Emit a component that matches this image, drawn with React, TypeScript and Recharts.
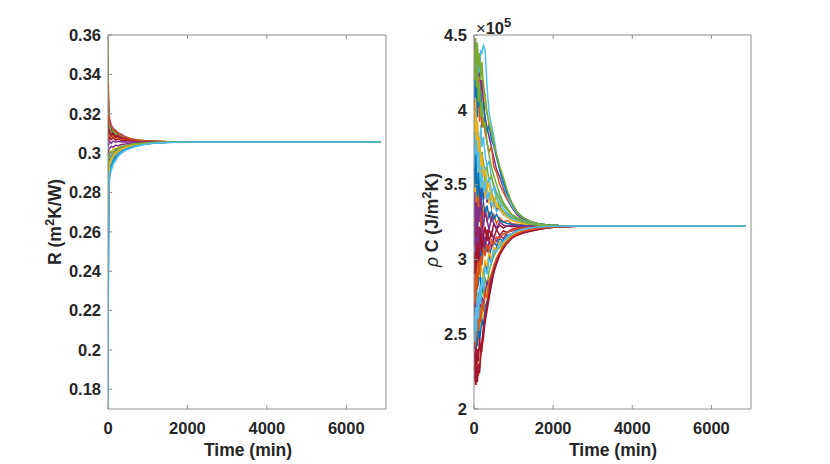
import React from 'react'
import { Line, LineChart, XAxis, YAxis } from 'recharts'

// MATLAB default colour order
const colors = ['#0072BD', '#D95319', '#EDB120', '#7E2F8E', '#77AC30', '#4DBEEE', '#A2142F']

const timeTicks = [0, 2000, 4000, 6000]
const rTicks = [0.18, 0.2, 0.22, 0.24, 0.26, 0.28, 0.3, 0.32, 0.34, 0.36]
const rhoCTicks = [2, 2.5, 3, 3.5, 4, 4.5] // x 10^5

// sample times (min)
const rTime = [0, 15, 40, 80, 130, 190, 260, 340, 430, 530, 650, 800, 980, 1200, 1500, 1900, 6870]
const rhoCTime = [
  0, 20, 40, 60, 85, 110, 140, 170, 200, 240, 280, 330, 380, 440, 500, 570, 650, 740, 840, 950, 1080, 1230,
  1400, 1600, 1850, 2150, 2600, 6870,
]

// R (m2K/W) estimates, one array per run
const rRuns = [
  [0.178, 0.29, 0.293, 0.2955, 0.2982, 0.3001, 0.3012, 0.3026, 0.3032, 0.3041, 0.3045, 0.3049, 0.3052, 0.3054, 0.3056, 0.3057, 0.3057],
  [0.352, 0.32, 0.3145, 0.3128, 0.311, 0.3104, 0.3092, 0.3086, 0.3078, 0.3073, 0.3068, 0.3064, 0.3061, 0.3059, 0.3058, 0.3057, 0.3057],
  [0.258, 0.281, 0.2905, 0.2938, 0.2965, 0.2978, 0.2996, 0.3008, 0.3021, 0.3029, 0.3037, 0.3044, 0.3049, 0.3053, 0.3055, 0.3057, 0.3057],
  [0.328, 0.325, 0.3175, 0.3142, 0.3125, 0.3116, 0.3102, 0.3095, 0.3084, 0.3076, 0.307, 0.3065, 0.3062, 0.3059, 0.3058, 0.3057, 0.3057],
  [0.358, 0.311, 0.3122, 0.3098, 0.3105, 0.3087, 0.309, 0.3079, 0.3076, 0.307, 0.3066, 0.3063, 0.306, 0.3059, 0.3058, 0.3057, 0.3057],
  [0.198, 0.272, 0.2885, 0.2912, 0.2944, 0.2962, 0.2985, 0.3, 0.3013, 0.3022, 0.3031, 0.3039, 0.3046, 0.3051, 0.3054, 0.3056, 0.3057],
  [0.316, 0.306, 0.3085, 0.3068, 0.3079, 0.3066, 0.3072, 0.3064, 0.3066, 0.3062, 0.3061, 0.3059, 0.3058, 0.3058, 0.3057, 0.3057, 0.3057],
  [0.341, 0.318, 0.315, 0.3131, 0.3112, 0.3098, 0.3094, 0.3083, 0.3079, 0.3072, 0.3068, 0.3064, 0.3061, 0.3059, 0.3058, 0.3057, 0.3057],
  [0.242, 0.284, 0.2925, 0.2948, 0.2975, 0.2989, 0.3005, 0.3013, 0.3024, 0.3031, 0.3038, 0.3045, 0.305, 0.3053, 0.3055, 0.3057, 0.3057],
  [0.3, 0.297, 0.301, 0.3002, 0.3022, 0.3018, 0.3031, 0.3029, 0.3038, 0.3041, 0.3045, 0.3049, 0.3052, 0.3054, 0.3056, 0.3057, 0.3057],
  [0.322, 0.314, 0.3122, 0.311, 0.3095, 0.3099, 0.3085, 0.3082, 0.3075, 0.3071, 0.3067, 0.3064, 0.3061, 0.3059, 0.3058, 0.3057, 0.3057],
  [0.232, 0.287, 0.294, 0.2962, 0.2985, 0.2995, 0.301, 0.3018, 0.3027, 0.3034, 0.304, 0.3046, 0.305, 0.3053, 0.3055, 0.3057, 0.3057],
  [0.188, 0.275, 0.2895, 0.2925, 0.2952, 0.2972, 0.299, 0.3004, 0.3016, 0.3025, 0.3034, 0.3041, 0.3047, 0.3052, 0.3055, 0.3056, 0.3057],
  [0.346, 0.313, 0.3098, 0.3115, 0.3092, 0.3088, 0.308, 0.3077, 0.3072, 0.3068, 0.3065, 0.3062, 0.306, 0.3059, 0.3058, 0.3057, 0.3057],
  [0.27, 0.293, 0.2968, 0.2985, 0.2998, 0.3012, 0.3018, 0.3027, 0.3033, 0.3039, 0.3044, 0.3048, 0.3051, 0.3054, 0.3056, 0.3057, 0.3057],
  [0.31, 0.308, 0.3095, 0.3082, 0.3088, 0.3076, 0.3079, 0.3071, 0.307, 0.3066, 0.3063, 0.3061, 0.3059, 0.3058, 0.3057, 0.3057, 0.3057],
  [0.263, 0.279, 0.2915, 0.2955, 0.2972, 0.2992, 0.3002, 0.3015, 0.3023, 0.3032, 0.3039, 0.3045, 0.305, 0.3053, 0.3055, 0.3057, 0.3057],
  [0.29, 0.302, 0.3025, 0.3034, 0.303, 0.304, 0.3038, 0.3044, 0.3046, 0.3049, 0.3051, 0.3053, 0.3055, 0.3056, 0.3057, 0.3057, 0.3057],
  [0.349, 0.316, 0.313, 0.3105, 0.3115, 0.3095, 0.3098, 0.3086, 0.3081, 0.3074, 0.3069, 0.3065, 0.3062, 0.306, 0.3058, 0.3057, 0.3057],
  [0.22, 0.289, 0.292, 0.294, 0.2968, 0.2983, 0.2998, 0.301, 0.302, 0.3028, 0.3036, 0.3043, 0.3048, 0.3052, 0.3055, 0.3056, 0.3057],
  [0.32, 0.31, 0.3112, 0.309, 0.31, 0.3082, 0.3086, 0.3075, 0.3074, 0.3069, 0.3066, 0.3063, 0.306, 0.3059, 0.3058, 0.3057, 0.3057],
  [0.208, 0.282, 0.2888, 0.293, 0.2958, 0.298, 0.2993, 0.3006, 0.3018, 0.3026, 0.3035, 0.3042, 0.3048, 0.3052, 0.3055, 0.3056, 0.3057],
  [0.336, 0.321, 0.316, 0.3138, 0.3118, 0.311, 0.3097, 0.309, 0.3081, 0.3075, 0.3069, 0.3065, 0.3062, 0.306, 0.3058, 0.3057, 0.3057],
  [0.25, 0.286, 0.295, 0.2975, 0.2992, 0.3005, 0.3015, 0.3022, 0.303, 0.3036, 0.3042, 0.3047, 0.3051, 0.3054, 0.3056, 0.3057, 0.3057],
  [0.305, 0.304, 0.306, 0.305, 0.3062, 0.3055, 0.306, 0.3056, 0.3058, 0.3057, 0.3058, 0.3057, 0.3057, 0.3057, 0.3057, 0.3057, 0.3057],
  [0.28, 0.298, 0.299, 0.3008, 0.3005, 0.3022, 0.3024, 0.3034, 0.3038, 0.3043, 0.3047, 0.305, 0.3053, 0.3055, 0.3056, 0.3057, 0.3057],
  [0.172, 0.278, 0.29, 0.2918, 0.2948, 0.2968, 0.2988, 0.3002, 0.3015, 0.3024, 0.3033, 0.304, 0.3046, 0.3051, 0.3054, 0.3056, 0.3057],
]

// rho C (x 10^5 J/m2K) estimates, one array per run
const rhoCRuns = [
  [3.05, 2.92, 3.1, 2.98, 3.15, 3.02, 2.95, 3.08, 3.0, 3.12, 3.05, 3.1, 3.02, 3.08, 3.12, 3.09, 3.14, 3.12, 3.16, 3.17, 3.19, 3.2, 3.21, 3.215, 3.219, 3.221, 3.223, 3.223],
  [2.3, 2.18, 2.26, 2.16, 2.35, 2.22, 2.28, 2.4, 2.38, 2.52, 2.6, 2.68, 2.76, 2.84, 2.92, 2.98, 3.04, 3.08, 3.12, 3.15, 3.165, 3.18, 3.19, 3.2, 3.212, 3.219, 3.222, 3.223],
  [4.3, 4.42, 4.18, 4.35, 4.25, 4.1, 4.32, 4.15, 4.05, 4.2, 4.02, 3.98, 3.92, 3.88, 3.8, 3.7, 3.62, 3.52, 3.44, 3.38, 3.32, 3.28, 3.255, 3.24, 3.23, 3.226, 3.224, 3.223],
  [4.48, 4.35, 4.45, 4.28, 4.4, 4.22, 4.3, 4.12, 4.2, 4.05, 3.95, 3.88, 3.82, 3.75, 3.68, 3.6, 3.55, 3.48, 3.4, 3.35, 3.3, 3.27, 3.25, 3.235, 3.228, 3.225, 3.223, 3.223],
  [2.55, 2.72, 2.48, 2.65, 2.58, 2.78, 2.62, 2.7, 2.85, 2.75, 2.88, 2.82, 2.92, 2.98, 3.02, 3.06, 3.08, 3.11, 3.14, 3.16, 3.18, 3.19, 3.2, 3.21, 3.216, 3.22, 3.222, 3.223],
  [3.7, 3.88, 3.62, 3.95, 3.78, 3.85, 3.65, 3.9, 3.75, 3.82, 3.7, 3.62, 3.66, 3.55, 3.5, 3.45, 3.42, 3.38, 3.34, 3.3, 3.28, 3.26, 3.245, 3.235, 3.228, 3.225, 3.223, 3.223],
  [2.2, 2.32, 2.16, 2.28, 2.18, 2.3, 2.24, 2.35, 2.42, 2.48, 2.58, 2.66, 2.74, 2.83, 2.91, 2.97, 3.03, 3.07, 3.11, 3.14, 3.16, 3.175, 3.186, 3.198, 3.21, 3.218, 3.222, 3.223],
  [2.8, 2.68, 2.88, 2.75, 2.92, 2.82, 2.95, 2.85, 2.78, 2.9, 2.98, 2.92, 3.02, 2.98, 3.05, 3.08, 3.1, 3.13, 3.15, 3.17, 3.185, 3.198, 3.206, 3.213, 3.218, 3.221, 3.223, 3.223],
  [3.9, 4.08, 3.85, 4.15, 3.98, 4.2, 3.92, 4.05, 3.88, 3.95, 3.85, 3.78, 3.72, 3.75, 3.62, 3.58, 3.5, 3.45, 3.4, 3.36, 3.31, 3.28, 3.255, 3.24, 3.23, 3.226, 3.224, 3.223],
  [2.65, 2.48, 2.58, 2.42, 2.55, 2.62, 2.5, 2.64, 2.58, 2.7, 2.75, 2.8, 2.86, 2.9, 2.95, 3.0, 3.05, 3.09, 3.12, 3.15, 3.17, 3.185, 3.195, 3.205, 3.214, 3.219, 3.222, 3.223],
  [3.4, 3.58, 3.3, 3.48, 3.62, 3.42, 3.55, 3.35, 3.5, 3.4, 3.48, 3.38, 3.42, 3.35, 3.4, 3.33, 3.36, 3.3, 3.31, 3.28, 3.27, 3.25, 3.24, 3.232, 3.227, 3.225, 3.223, 3.223],
  [3.6, 3.45, 3.68, 3.52, 3.75, 3.58, 3.48, 3.65, 3.55, 3.45, 3.58, 3.48, 3.4, 3.46, 3.38, 3.42, 3.35, 3.32, 3.3, 3.28, 3.265, 3.25, 3.24, 3.232, 3.227, 3.225, 3.223, 3.223],
  [4.1, 4.22, 4.05, 4.3, 4.18, 4.35, 4.25, 4.4, 4.38, 4.43, 4.4, 4.15, 3.98, 3.9, 3.82, 3.7, 3.6, 3.5, 3.42, 3.36, 3.31, 3.28, 3.255, 3.24, 3.23, 3.226, 3.224, 3.223],
  [3.2, 3.02, 3.28, 3.1, 3.32, 3.05, 3.22, 3.12, 3.3, 3.15, 3.08, 3.2, 3.12, 3.18, 3.14, 3.2, 3.16, 3.19, 3.18, 3.2, 3.21, 3.215, 3.218, 3.22, 3.222, 3.223, 3.223, 3.223],
  [2.4, 2.55, 2.35, 2.48, 2.42, 2.58, 2.46, 2.52, 2.6, 2.55, 2.68, 2.72, 2.8, 2.86, 2.93, 2.99, 3.04, 3.09, 3.12, 3.15, 3.17, 3.185, 3.195, 3.205, 3.214, 3.219, 3.222, 3.223],
  [3.35, 3.18, 3.42, 3.25, 3.5, 3.3, 3.45, 3.22, 3.38, 3.28, 3.35, 3.25, 3.32, 3.26, 3.3, 3.24, 3.28, 3.25, 3.26, 3.24, 3.235, 3.23, 3.228, 3.226, 3.225, 3.224, 3.223, 3.223],
  [2.95, 3.1, 2.85, 3.02, 2.9, 3.08, 2.88, 3.0, 2.92, 2.85, 3.0, 2.95, 3.05, 3.0, 3.08, 3.06, 3.12, 3.1, 3.15, 3.16, 3.18, 3.195, 3.205, 3.212, 3.218, 3.221, 3.223, 3.223],
  [2.85, 2.62, 2.78, 2.58, 2.72, 2.65, 2.8, 2.68, 2.75, 2.7, 2.78, 2.85, 2.82, 2.9, 2.94, 2.99, 3.04, 3.08, 3.12, 3.15, 3.17, 3.185, 3.196, 3.206, 3.215, 3.22, 3.222, 3.223],
  [3.8, 3.62, 3.85, 3.7, 3.92, 3.68, 3.78, 3.6, 3.72, 3.65, 3.58, 3.62, 3.52, 3.56, 3.48, 3.44, 3.4, 3.36, 3.33, 3.3, 3.28, 3.26, 3.245, 3.235, 3.228, 3.225, 3.223, 3.223],
  [3.55, 3.7, 3.48, 3.65, 3.8, 3.6, 3.72, 3.52, 3.65, 3.55, 3.62, 3.5, 3.55, 3.45, 3.48, 3.4, 3.38, 3.34, 3.31, 3.29, 3.27, 3.255, 3.242, 3.233, 3.227, 3.225, 3.223, 3.223],
  [2.38, 2.22, 2.45, 2.28, 2.4, 2.32, 2.48, 2.38, 2.45, 2.55, 2.62, 2.7, 2.78, 2.86, 2.92, 2.98, 3.03, 3.08, 3.11, 3.14, 3.165, 3.18, 3.19, 3.2, 3.212, 3.219, 3.222, 3.223],
  [4.2, 4.05, 4.28, 4.1, 3.95, 4.15, 4.02, 4.12, 3.98, 4.05, 3.92, 3.85, 3.9, 3.8, 3.76, 3.68, 3.6, 3.52, 3.44, 3.38, 3.32, 3.28, 3.255, 3.24, 3.23, 3.226, 3.224, 3.223],
  [2.5, 2.65, 2.42, 2.58, 2.7, 2.52, 2.66, 2.58, 2.72, 2.65, 2.78, 2.74, 2.86, 2.9, 2.96, 3.01, 3.05, 3.09, 3.12, 3.15, 3.17, 3.186, 3.196, 3.206, 3.215, 3.22, 3.222, 3.223],
  [3.45, 3.62, 3.38, 3.55, 3.42, 3.68, 3.5, 3.6, 3.45, 3.52, 3.42, 3.48, 3.38, 3.42, 3.35, 3.38, 3.33, 3.31, 3.29, 3.27, 3.26, 3.248, 3.238, 3.231, 3.226, 3.224, 3.223, 3.223],
  [3.1, 3.25, 2.98, 3.15, 3.05, 3.2, 3.0, 3.12, 3.22, 3.08, 3.15, 3.05, 3.12, 3.08, 3.15, 3.12, 3.16, 3.14, 3.18, 3.19, 3.2, 3.21, 3.215, 3.219, 3.221, 3.222, 3.223, 3.223],
  [4.4, 4.25, 4.48, 4.3, 4.45, 4.28, 4.38, 4.2, 4.32, 4.15, 4.1, 3.98, 3.9, 3.85, 3.78, 3.7, 3.62, 3.55, 3.46, 3.38, 3.32, 3.28, 3.255, 3.24, 3.23, 3.226, 3.224, 3.223],
  [3.75, 3.6, 3.82, 3.68, 3.55, 3.72, 3.62, 3.48, 3.58, 3.45, 3.52, 3.4, 3.45, 3.36, 3.38, 3.32, 3.34, 3.3, 3.29, 3.27, 3.26, 3.248, 3.238, 3.231, 3.226, 3.224, 3.223, 3.223],
  [2.9, 3.05, 2.85, 3.0, 3.12, 2.95, 3.08, 3.18, 3.05, 3.15, 3.22, 3.12, 3.2, 3.16, 3.24, 3.2, 3.23, 3.21, 3.225, 3.218, 3.222, 3.224, 3.222, 3.223, 3.223, 3.223, 3.223, 3.223],
  [3.62, 3.48, 3.7, 3.55, 3.42, 3.58, 3.45, 3.36, 3.48, 3.38, 3.3, 3.36, 3.28, 3.32, 3.27, 3.3, 3.26, 3.25, 3.24, 3.235, 3.23, 3.228, 3.226, 3.225, 3.224, 3.223, 3.223, 3.223],
  [2.72, 2.88, 2.7, 2.92, 2.8, 2.98, 2.9, 3.02, 2.96, 3.08, 3.02, 3.1, 3.06, 3.13, 3.1, 3.15, 3.14, 3.17, 3.18, 3.195, 3.205, 3.212, 3.217, 3.22, 3.222, 3.223, 3.223, 3.223],
  [4.0, 3.85, 4.08, 3.8, 3.92, 3.72, 3.82, 3.62, 3.7, 3.55, 3.6, 3.48, 3.5, 3.4, 3.42, 3.35, 3.34, 3.3, 3.28, 3.26, 3.25, 3.24, 3.233, 3.228, 3.225, 3.224, 3.223, 3.223],
  [3.28, 3.45, 3.22, 3.38, 3.18, 3.35, 3.25, 3.42, 3.3, 3.22, 3.32, 3.26, 3.2, 3.28, 3.24, 3.21, 3.25, 3.23, 3.22, 3.228, 3.224, 3.222, 3.224, 3.223, 3.223, 3.223, 3.223, 3.223],
  [4.35, 4.2, 4.42, 4.15, 4.28, 4.05, 4.18, 3.95, 4.05, 3.88, 3.92, 3.78, 3.7, 3.62, 3.56, 3.5, 3.44, 3.38, 3.34, 3.3, 3.27, 3.25, 3.238, 3.23, 3.226, 3.224, 3.223, 3.223],
  [2.62, 2.45, 2.68, 2.52, 2.75, 2.6, 2.82, 2.7, 2.88, 2.8, 2.95, 2.9, 3.0, 2.98, 3.06, 3.05, 3.1, 3.12, 3.15, 3.17, 3.19, 3.2, 3.21, 3.216, 3.22, 3.222, 3.223, 3.223],
]

const toRows = (times: number[], runs: number[][]) =>
  times.map((t, k) => {
    const row: Record<string, number> = { t }
    runs.forEach((run, i) => (row['s' + i] = run[k]))
    return row
  })

const font = '"Liberation Sans", Arial, Helvetica, sans-serif'
const axisGray = '#8c8c8c'
const tickStyle = { fontSize: 16.5, fontWeight: 700, fill: '#262626', fontFamily: font }
const noLabel = () => <g />

function Panel({
  data,
  runs,
  yDomain,
  yTicks,
  yWidth,
  marginRight,
  yFormat,
}: {
  data: Record<string, number>[]
  runs: number[][]
  yDomain: [number, number]
  yTicks: number[]
  yWidth: number
  marginRight: number
  yFormat: (v: number) => string
}) {
  return (
    <LineChart
      width={415}
      height={464}
      data={data}
      margin={{ top: 34, right: marginRight, left: 0, bottom: 0 }}
    >
      <XAxis
        xAxisId="b"
        dataKey="t"
        type="number"
        domain={[0, 7000]}
        ticks={timeTicks}
        height={55}
        tickSize={-4}
        tickMargin={17}
        tick={tickStyle}
        stroke={axisGray}
        allowDataOverflow
      />
      <XAxis
        xAxisId="top"
        orientation="top"
        dataKey="t"
        type="number"
        domain={[0, 7000]}
        ticks={timeTicks}
        height={1}
        tickSize={-4}
        tick={noLabel}
        stroke={axisGray}
      />
      <YAxis
        yAxisId="l"
        type="number"
        domain={yDomain}
        ticks={yTicks}
        width={yWidth}
        tickSize={-4}
        tickMargin={11}
        tick={tickStyle}
        tickFormatter={yFormat}
        stroke={axisGray}
        allowDataOverflow
      />
      <YAxis
        yAxisId="r"
        orientation="right"
        type="number"
        domain={yDomain}
        ticks={yTicks}
        width={1}
        tickSize={-4}
        tick={noLabel}
        stroke={axisGray}
      />
      {runs.map((_, i) => (
        <Line
          key={i}
          xAxisId="b"
          yAxisId="l"
          dataKey={'s' + i}
          type="linear"
          stroke={colors[i % colors.length]}
          strokeWidth={1.5}
          dot={false}
          isAnimationActive={false}
        />
      ))}
    </LineChart>
  )
}

const labelStyle: React.CSSProperties = {
  position: 'absolute',
  fontFamily: font,
  fontWeight: 700,
  fontSize: 17.5,
  color: '#262626',
  whiteSpace: 'nowrap',
  lineHeight: 1,
}

const Sup = ({ children }: { children: React.ReactNode }) => (
  <span style={{ fontSize: 13, position: 'relative', top: -7 }}>{children}</span>
)

export default function App() {
  const rData = toRows(rTime, rRuns)
  const rhoCData = toRows(rhoCTime, rhoCRuns)

  return (
    <div style={{ position: 'fixed', left: 0, top: 0, width: 830, height: 464, background: '#fff' }}>
      <div style={{ position: 'absolute', left: 0, top: 0 }}>
        <Panel
          data={rData}
          runs={rRuns}
          yDomain={[0.17, 0.36]}
          yTicks={rTicks}
          yWidth={108}
          marginRight={28}
          yFormat={(v) => String(Math.round(v * 100) / 100)}
        />
      </div>
      <div style={{ position: 'absolute', left: 415, top: 0 }}>
        <Panel
          data={rhoCData}
          runs={rhoCRuns}
          yDomain={[2, 4.5]}
          yTicks={rhoCTicks}
          yWidth={59}
          marginRight={78}
          yFormat={(v) => String(v)}
        />
      </div>

      {/* axis titles */}
      <div style={{ ...labelStyle, left: 248, top: 451, transform: 'translate(-50%, -50%)' }}>Time (min)</div>
      <div style={{ ...labelStyle, left: 613, top: 451, transform: 'translate(-50%, -50%)' }}>Time (min)</div>
      <div style={{ ...labelStyle, left: 56, top: 222, transform: 'translate(-50%, -50%) rotate(-90deg)' }}>
        R (m<Sup>2</Sup>K/W)
      </div>
      <div style={{ ...labelStyle, left: 433, top: 220, transform: 'translate(-50%, -50%) rotate(-90deg)' }}>
        <span style={{ fontStyle: 'italic', fontWeight: 400 }}>ρ</span> C (J/m<Sup>2</Sup>K)
      </div>
      <div style={{ ...labelStyle, left: 476, top: 20, fontSize: 16.5 }}>
        <span style={{ fontWeight: 400 }}>×</span>10<Sup>5</Sup>
      </div>
    </div>
  )
}
